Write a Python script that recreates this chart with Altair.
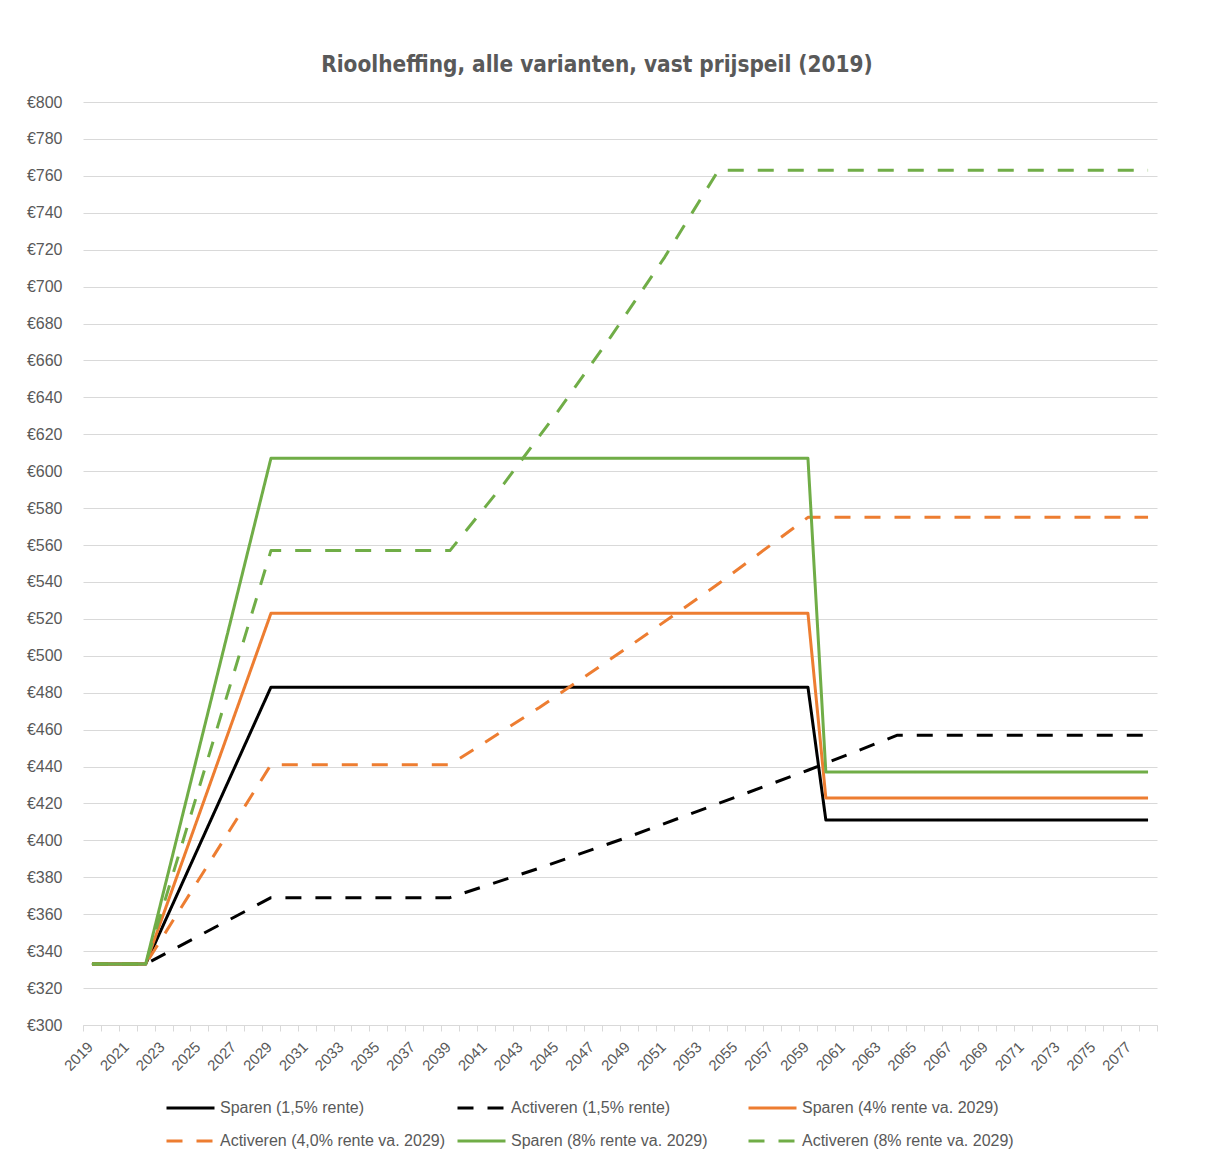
import altair as alt
import pandas as pd

# ---------------- data ----------------
years = list(range(2019, 2079))
y_ticks = list(range(300, 801, 20))

series_names = [
    "Sparen (1,5% rente)",
    "Activeren (1,5% rente)",
    "Sparen (4% rente va. 2029)",
    "Activeren (4,0% rente va. 2029)",
    "Sparen (8% rente va. 2029)",
    "Activeren (8% rente va. 2029)",
]

# breakpoints (year, value)
sparen_15_years = [2019, 2022, 2029, 2059, 2060, 2078]
sparen_15_values = [333, 333, 483, 483, 411, 411]

activeren_15_years = [2019, 2022, 2029, 2039, 2044, 2049, 2054, 2059, 2064, 2078]
activeren_15_values = [333, 333, 369, 369, 385, 402, 420, 438, 457, 457]

sparen_4_years = [2019, 2022, 2029, 2059, 2060, 2078]
sparen_4_values = [333, 333, 523, 523, 423, 423]

activeren_4_years = [2019, 2022, 2029, 2039, 2044, 2049, 2054, 2059, 2078]
activeren_4_values = [333, 333, 441, 441, 472, 505, 539, 575, 575]

sparen_8_years = [2019, 2022, 2029, 2059, 2060, 2078]
sparen_8_values = [333, 333, 607, 607, 437, 437]

activeren_8_years = [2019, 2022, 2029, 2039, 2042, 2045, 2048, 2051, 2054, 2078]
activeren_8_values = [333, 333, 557, 557, 593, 632, 673, 716, 763, 763]

series_years = [sparen_15_years, activeren_15_years, sparen_4_years,
                activeren_4_years, sparen_8_years, activeren_8_years]
series_values = [sparen_15_values, activeren_15_values, sparen_4_values,
                 activeren_4_values, sparen_8_values, activeren_8_values]

# ---------------- styles ----------------
series_colors = ["#000000", "#000000", "#ED7D31", "#ED7D31", "#70AD47", "#70AD47"]
solid = [1, 0]
dashed = [16, 14]
series_dashes = [solid, dashed, solid, dashed, solid, dashed]

rows = []
for name, ys, vs in zip(series_names, series_years, series_values):
    for yr, v in zip(ys, vs):
        rows.append({"series": name, "year": yr, "value": v})
df = pd.DataFrame(rows)

TEXT = "#595959"
FONT = "Liberation Sans"

legend_kw = dict(
    title=None,
    orient="none",
    direction="horizontal",
    legendX=82,
    legendY=998,
    columns=3,
    gridAlign="all",
    columnPadding=10,
    rowPadding=17,
    symbolType="stroke",
    symbolSize=2304,
    symbolStrokeWidth=3,
    labelFont=FONT,
    labelFontSize=16,
    labelColor=TEXT,
    labelOffset=4,
    labelLimit=400,
    clipHeight=16,
    padding=0,
)

chart = (
    alt.Chart(df)
    .mark_line(strokeWidth=3, strokeJoin="round")
    .encode(
        x=alt.X(
            "year:O",
            bandPosition=0.5,
            scale=alt.Scale(type="band", domain=years, paddingInner=0, paddingOuter=0),
            axis=alt.Axis(
                title=None,
                labelExpr="datum.value % 2 == 1 ? datum.label : ''",
                labelAngle=-45,
                labelAlign="right",
                labelBaseline="middle",
                labelPadding=13,
                labelOffset=-2,
                labelOverlap=False,
                labelFont=FONT,
                labelFontSize=15,
                labelColor=TEXT,
                tickBand="extent",
                tickColor="#D9D9D9",
                tickSize=6,
                domainColor="#D9D9D9",
                domainWidth=1,
                grid=False,
            ),
        ),
        y=alt.Y(
            "value:Q",
            scale=alt.Scale(domain=[300, 800], nice=False, zero=False),
            axis=alt.Axis(
                title=None,
                values=y_ticks,
                labelExpr="'€' + datum.value",
                labelFont=FONT,
                labelFontSize=16,
                labelColor=TEXT,
                labelPadding=21,
                ticks=False,
                tickSize=0,
                domain=False,
                grid=True,
                gridColor="#D9D9D9",
                gridWidth=1,
            ),
        ),
        color=alt.Color(
            "series:N",
            scale=alt.Scale(domain=series_names, range=series_colors),
            legend=alt.Legend(**legend_kw),
        ),
        strokeDash=alt.StrokeDash(
            "series:N",
            scale=alt.Scale(domain=series_names, range=series_dashes),
            legend=alt.Legend(**legend_kw),
        ),
    )
    .properties(
        width=1074,
        height=923,
        autosize="none",
        padding={"left": 75, "top": 94, "right": 40, "bottom": 130},
        title=alt.TitleParams(
            text="Rioolheffing, alle varianten, vast prijspeil (2019)",
            font="Liberation Sans Narrow, DejaVu Sans Condensed, sans-serif",
            fontSize=22.4,
            fontWeight="bold",
            color=TEXT,
            anchor="middle",
            offset=18,
            dx=-23,
        ),
    )
    .configure(background="white")
    .configure_view(strokeWidth=0, stroke="transparent")
)

chart.save("out.html", embed_options={"renderer": "svg", "actions": False})
